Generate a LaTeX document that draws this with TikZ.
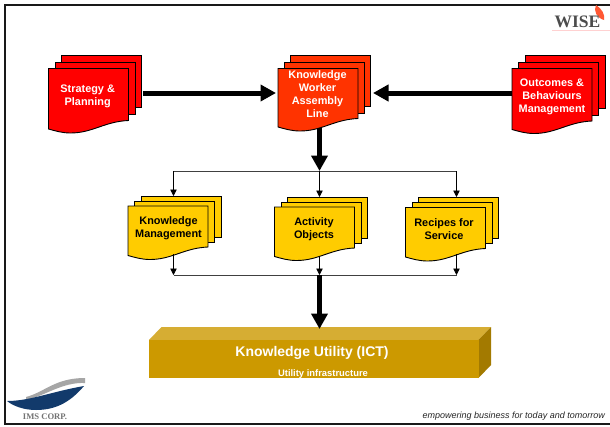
\documentclass[tikz,border=0pt]{standalone}
\usepackage{fontspec}
\setmainfont{Liberation Sans}
\newfontfamily\serifont{Liberation Serif}
\usetikzlibrary{arrows.meta}
\definecolor{stratred}{HTML}{FF0000}
\definecolor{kwred}{HTML}{FF3300}
\definecolor{docyel}{HTML}{FFCC00}
\definecolor{boxfront}{HTML}{CC9900}
\definecolor{boxtop}{HTML}{D6AD33}
\definecolor{boxside}{HTML}{A37A00}
\definecolor{navy}{HTML}{123A6B}
\tikzset{
  x=1pt,y=-1pt,
  sheet/.style={draw=black,line width=0.9pt,line join=miter},
  doclabel/.style={font=\bfseries\fontsize{10.9}{13}\selectfont,align=center,inner sep=0pt},
  whitelabel/.style={doclabel,text=white},
  blacklabel/.style={doclabel,text=black},
  bigarrow/.style={line width=5pt,-{Triangle[length=15.5pt,width=16pt]}},
  thinarrow/.style={line width=0.8pt,-{Triangle[length=6.5pt,width=6.5pt]}},
  busline/.style={line width=0.9pt,draw=black!75},
}
\newcommand{\sheetrect}[5]{%
  \path[sheet,fill=#3] (#1,#2) rectangle ++(#5,#4);}
% #1 x, #2 y, #3 fill, #4 height of the right side
\newcommand{\docfront}[4]{%
  \begin{scope}[shift={(#1,#2)}]
  \path[sheet,fill=#3] (0,0) -- (80,0) -- (80,#4)
    .. controls (56,#4+1) and (44,#4+12.5) .. (22,#4+12.5)
    .. controls (14,#4+12.5) and (7,#4+10.5) .. (0,#4+8.5) -- cycle;
  \end{scope}}
\begin{document}
\begin{tikzpicture}
\useasboundingbox (0,0) rectangle (610,426);
\fill[white] (0,0) rectangle (610,426);
% slide frame
\draw[line width=2.2pt,black!90] (610,5) -- (5,5) -- (5,424) -- (610,424);
% WISE logo
\fill[red!65!orange!80] (596,5) .. controls (593,11) and (597,18) .. (604,20) .. controls (605,14) and (602,9) .. (596,5) -- cycle;
\node[font=\serifont\bfseries\fontsize{17.5}{17.5}\selectfont,text=black!70,inner sep=0pt] (wise) at (577.5,22) {WISE};
\draw[red!18,line width=0.6pt] (552,30) -- (610,30);
% IMS logo
\fill[black!35] (26,397) .. controls (45,392) and (55,378) .. (85,378) -- (85,383) .. controls (62,382) and (45,396) .. (26,400) -- cycle;
\fill[navy] (7,401) .. controls (30,401) and (50,392) .. (84,386) .. controls (72,400) and (58,410) .. (36,410) .. controls (24,410) and (13,406) .. (7,401) -- cycle;
\node[font=\serifont\bfseries\fontsize{8.6}{9}\selectfont,text=black!55,inner sep=0pt] (ims) at (45,416.5) {IMS CORP.};
% Strategy
\sheetrect{61.5}{55.5}{stratred}{52}{80}
\sheetrect{55}{62}{stratred}{52}{80}
\docfront{48.5}{68.5}{stratred}{52}
\node[whitelabel] (sp) at (87.7,96) {Strategy \&\\Planning};
% Knowledge worker
\sheetrect{290.5}{55.5}{kwred}{51}{80}
\sheetrect{284}{62}{kwred}{51}{80}
\docfront{278}{68.5}{kwred}{50}
\node[whitelabel] (kw) at (317.5,94.5) {Knowledge\\Worker\\Assembly\\Line};
% Outcomes
\sheetrect{525}{55.5}{stratred}{52.5}{80}
\sheetrect{518.5}{62}{stratred}{53}{80}
\docfront{512}{68.5}{stratred}{52.5}
\node[whitelabel] (ob) at (552,96.5) {Outcomes \&\\Behaviours\\Management};
% KM
\sheetrect{141}{196}{docyel}{41}{80}
\sheetrect{134.5}{201}{docyel}{41}{80}
\docfront{128}{206}{docyel}{41}
\node[blacklabel] (km) at (168.5,228) {Knowledge\\Management};
% Activity
\sheetrect{287.5}{197}{docyel}{41}{80}
\sheetrect{281}{202}{docyel}{41}{80}
\docfront{274.5}{207}{docyel}{41}
\node[blacklabel] (ao) at (314,229) {Activity\\Objects};
% Recipes
\sheetrect{418.5}{197.5}{docyel}{41}{80}
\sheetrect{412}{202.5}{docyel}{41}{80}
\docfront{405.5}{207.5}{docyel}{41}
\node[blacklabel] (rs) at (444,229.5) {Recipes for\\Service};
% Utility box
\fill[boxtop] (149,340) -- (161.5,327) -- (491,327) -- (478.5,340) -- cycle;
\fill[boxside] (478.5,340) -- (491,327) -- (491,365) -- (478.5,378) -- cycle;
\fill[boxfront] (149,340) rectangle (478.5,378);
\node[font=\bfseries\fontsize{14}{16}\selectfont,text=white,inner sep=0pt] (ku) at (312,352.5) {Knowledge Utility (ICT)};
\node[font=\bfseries\fontsize{9.4}{11}\selectfont,text=white,inner sep=0pt] (ui) at (323,374.5) {Utility infrastructure};
% ports
\coordinate (spOut) at (143,93);
\coordinate (kwInL) at (276,93);
\coordinate (obOut) at (512,93);
\coordinate (kwInR) at (373,93);
\coordinate (kwOut) at (319.5,128);
\coordinate (busTop) at (319.5,171);
\coordinate (busTL) at (173.5,171);
\coordinate (busTR) at (456.5,171);
\coordinate (kmIn) at (173.5,196);
\coordinate (aoIn) at (319.5,197);
\coordinate (rsIn) at (456.5,197);
\coordinate (kmOut) at (173.5,254);
\coordinate (aoOut) at (319.5,256);
\coordinate (rsOut) at (456.5,254);
\coordinate (busBL) at (173.5,275);
\coordinate (busBM) at (319.5,275);
\coordinate (busBR) at (456.5,275);
\coordinate (kuIn) at (319.5,329);
% connectors
\draw[bigarrow] (spOut) -- (kwInL);
\draw[bigarrow] (obOut) -- (kwInR);
\draw[busline] (busTL) -- (busTR);
\draw[thinarrow] (busTL) -- (kmIn);
\draw[thinarrow] (busTop) -- (aoIn);
\draw[thinarrow] (busTR) -- (rsIn);
\draw[bigarrow] (kwOut) -- (busTop);
\draw[busline] (busBL) -- (busBR);
\draw[thinarrow] (kmOut) -- (busBL);
\draw[thinarrow] (aoOut) -- (busBM);
\draw[thinarrow] (rsOut) -- (busBR);
\draw[bigarrow] (busBM) -- (kuIn);
% tagline
\node[font=\itshape\fontsize{9}{10}\selectfont,text=black!85,anchor=east,inner sep=0pt] (tag) at (605,416.5) {empowering business for today and tomorrow};
\end{tikzpicture}
\end{document}
